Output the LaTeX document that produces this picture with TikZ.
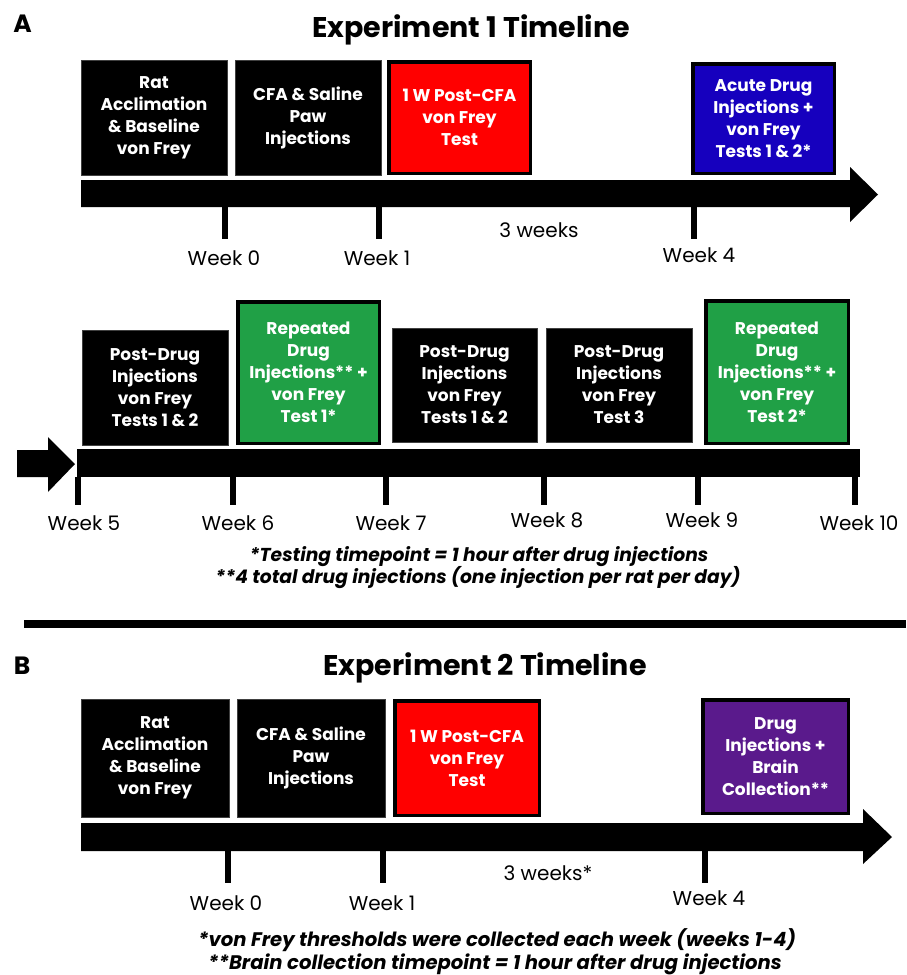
\documentclass[tikz,border=0pt]{standalone}
\usepackage{fontspec}
\setmainfont{Poppins}
\usetikzlibrary{positioning}
\definecolor{cfared}{RGB}{255,0,0}
\definecolor{acuteblue}{RGB}{22,0,190}
\definecolor{repgreen}{RGB}{32,160,70}
\definecolor{brainpurple}{RGB}{90,26,140}

\begin{document}
\begin{tikzpicture}[
x=1pt,
y=-1pt,
stage/.style={
  rectangle,
  fill=black,
  draw=black!75,
  line width=0.8pt,
  text=white,
  align=center,
  inner sep=0pt,
  minimum width=146pt,
  minimum height=115pt,
  font=\bfseries\fontsize{17}{22}\selectfont
  },
marked/.style={
  stage,
  draw=black,
  line width=3.5pt,
  fill=#1,
  minimum width=141.5pt,
  minimum height=111.5pt
  },
tick/.style={
  line width=6.5pt
  },
week/.style={
  inner sep=0pt,
  font=\fontsize{20}{22}\selectfont
  },
heading/.style={
  inner sep=0pt,
  font=\bfseries\fontsize{28.5}{32}\selectfont
  },
panel/.style={
  inner sep=0pt,
  font=\bfseries\fontsize{25}{28}\selectfont
  },
note/.style={
  inner sep=0pt,
  font=\bfseries\itshape\fontsize{18.7}{21}\selectfont
  },
bignote/.style={
  note,
  font=\bfseries\itshape\fontsize{19.6}{22}\selectfont
  }
]
\useasboundingbox (0,0) rectangle (906,975);

% ---- panel A, first row
\node[panel] (labA) at (22.5,24) {A};
\node[heading] (titleA) at (471,30) {Experiment 1 Timeline};

\node[stage] (a1) at (154,117.5) {Rat\\Acclimation\\\& Baseline\\von Frey};
\node[stage] (a2) at (308,117.5) {CFA \& Saline\\Paw\\Injections};
\node[marked=cfared] (a3) at (459.5,117.5) {1 W Post-CFA\\von Frey\\Test};
\node[marked=acuteblue, minimum height=109.5pt] (a4) at (763.5,118.5)
  {Acute Drug\\Injections +\\von Frey\\Tests 1 \& 2*};

\fill (81,180) -- (850,180) -- (850,167) -- (878,194.5) -- (850,222)
  -- (850,207) -- (81,207) -- cycle;
\foreach \tx/\lx/\ly/\wk in {225/224/258/0, 379/377/258/1, 694/699/255/4}
{
  \draw[tick] (\tx,207) -- (\tx,239);
  \node[week] (wkA\wk) at (\lx,\ly) {Week \wk};
}
\node[week] (gapA) at (539,230) {3 weeks};

% ---- panel A, second row
\node[stage] (b1) at (155,387.5) {Post-Drug\\Injections\\von Frey\\Tests 1 \& 2};
\node[marked=repgreen, minimum height=141.5pt] (b2) at (308.5,372.5)
  {Repeated\\Drug\\Injections** +\\von Frey\\Test 1*};
\node[stage, minimum width=145pt, minimum height=114pt] (b3) at (464.5,385)
  {Post-Drug\\Injections\\von Frey\\Tests 1 \& 2};
\node[stage, minimum height=114pt] (b4) at (619,385)
  {Post-Drug\\Injections\\von Frey\\Test 3};
\node[marked=repgreen, minimum width=142.5pt, minimum height=142.5pt] (b5) at (777,372)
  {Repeated\\Drug\\Injections** +\\von Frey\\Test 2*};

\fill (17,450) -- (48,450) -- (48,437) -- (75,464) -- (48,492) -- (48,477)
  -- (17,477) -- cycle;
\fill (77,449) rectangle (860,477);
\foreach \tx/\lx/\ly/\wk [count=\ti] in {78/84/523/5, 233/238/523/6, 386/391/523/7,
    544/547/520/8, 698/702/520/9, 855/859/523/10}
{
  \draw[tick] (\tx,477) -- (\tx,505);
  \node[week] (wkB\ti) at (\lx,\ly) {Week \wk};
}
\node[note] (noteA1) at (479,557) {*Testing timepoint = 1 hour after drug injections};
\node[note] (noteA2) at (478,578) {**4 total drug injections (one injection per rat per day)};

% separator
\draw[line width=8pt] (24,624) -- (906,624);

% ---- panel B
\node[panel] (labB) at (22,666) {B};
\node[heading] (titleB) at (485,668) {Experiment 2 Timeline};

\node[stage, minimum width=148pt, minimum height=118pt] (c1) at (155,758)
  {Rat\\Acclimation\\\& Baseline\\von Frey};
\node[stage, minimum width=148pt, minimum height=118pt] (c2) at (311,758)
  {CFA \& Saline\\Paw\\Injections};
\node[marked=cfared, minimum width=144.5pt, minimum height=114.5pt] (c3) at (467,758)
  {1 W Post-CFA\\von Frey\\Test};
\node[marked=brainpurple, minimum width=145.5pt, minimum height=113.5pt] (c4) at (775.5,756.5)
  {Drug\\Injections +\\Brain\\Collection**};

\fill (81,823) -- (863,823) -- (863,809) -- (892,837) -- (863,864)
  -- (863,851) -- (81,851) -- cycle;
\foreach \tx/\lx/\ly/\wk in {228/226/903/0, 383/382/903/1, 705/709/898/4}
{
  \draw[tick] (\tx,851) -- (\tx,883);
  \node[week] (wkC\wk) at (\lx,\ly) {Week \wk};
}
\node[week] (gapB) at (548,873) {3 weeks*};
\node[bignote] (noteB1) at (497,940) {*von Frey thresholds were collected each week (weeks 1-4)};
\node[bignote] (noteB2) at (495,964) {**Brain collection timepoint = 1 hour after drug injections};
\end{tikzpicture}
\end{document}
